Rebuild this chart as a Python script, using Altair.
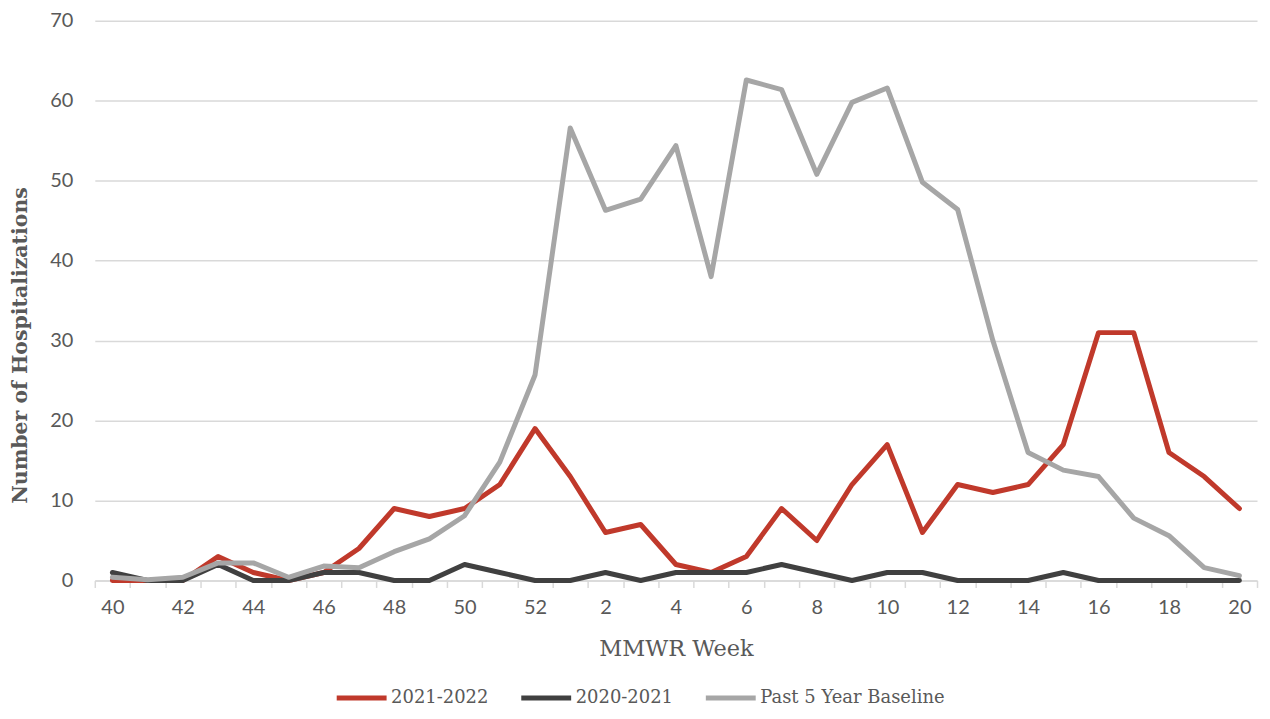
import altair as alt
import pandas as pd

weeks = ["40", "41", "42", "43", "44", "45", "46", "47", "48", "49", "50", "51", "52",
         "1", "2", "3", "4", "5", "6", "7", "8", "9", "10", "11", "12", "13", "14",
         "15", "16", "17", "18", "19", "20"]

season_2021_2022 = [0, 0, 0, 3, 1, 0, 1, 4, 9, 8, 9, 12, 19,
                    13, 6, 7, 2, 1, 3, 9, 5, 12, 17, 6, 12, 11, 12,
                    17, 31, 31, 16, 13, 9]

season_2020_2021 = [1, 0, 0, 2, 0, 0, 1, 1, 0, 0, 2, 1, 0,
                    0, 1, 0, 1, 1, 1, 2, 1, 0, 1, 1, 0, 0, 0,
                    1, 0, 0, 0, 0, 0]

baseline_5yr = [0.4, 0.1, 0.4, 2.2, 2.2, 0.4, 1.8, 1.6, 3.6, 5.2, 8.1, 14.8, 25.7,
                56.6, 46.3, 47.7, 54.4, 38.0, 62.6, 61.4, 50.8, 59.8, 61.6, 49.8, 46.4, 30.0, 16.0,
                13.8, 13.0, 7.8, 5.6, 1.6, 0.6]

series_names = ["2021-2022", "2020-2021", "Past 5 Year Baseline"]
series_colors = ["#C0392B", "#404040", "#A6A6A6"]

rows = []
for name, vals in zip(series_names, [season_2021_2022, season_2020_2021, baseline_5yr]):
    for i, (w, v) in enumerate(zip(weeks, vals)):
        rows.append({"week": w, "value": v, "series": name, "idx": i})
df = pd.DataFrame(rows)

LABEL = "#595959"
GRID = "#D9D9D9"
SERIF = "DejaVu Serif"
SANS = "Lato"

x_enc = alt.X(
    "week:N",
    sort=weeks,
    scale=alt.Scale(type="band", paddingInner=0, paddingOuter=0),
    axis=alt.Axis(
        title="MMWR Week",
        labelExpr="toNumber(datum.value) % 2 == 0 ? datum.value : ''",
        labelAngle=0,
        labelFont=SANS,
        labelFontSize=20,
        labelColor=LABEL,
        labelPadding=10,
        tickBand="extent",
        tickColor=GRID,
        tickSize=7,
        tickWidth=1.5,
        domainColor=GRID,
        domainWidth=1.5,
        grid=False,
        titleFont=SERIF,
        titleFontSize=22.5,
        titleFontWeight="normal",
        titleColor=LABEL,
        titleY=68,
        titleBaseline="middle",
    ),
)

y_enc = alt.Y(
    "value:Q",
    scale=alt.Scale(domain=[0, 70], nice=False),
    axis=alt.Axis(
        title="Number of Hospitalizations",
        values=[0, 10, 20, 30, 40, 50, 60, 70],
        labelFont=SANS,
        labelFontSize=20,
        labelColor=LABEL,
        labelPadding=22,
        ticks=False,
        domain=False,
        grid=True,
        gridColor=GRID,
        gridWidth=1.5,
        titleFont=SERIF,
        titleFontSize=20.5,
        titleFontWeight="bold",
        titleColor=LABEL,
        titleAngle=-90,
        titleX=-74,
        titleY=325,
        titleAlign="center",
        titleBaseline="middle",
    ),
)

color_enc = alt.Color(
    "series:N",
    scale=alt.Scale(domain=series_names, range=series_colors),
    sort=series_names,
    legend=alt.Legend(
        title=None,
        orient="none",
        direction="horizontal",
        legendX=240,
        legendY=651,
        symbolType="stroke",
        symbolSize=2500,
        symbolStrokeWidth=5,
        labelFont=SERIF,
        labelFontSize=18,
        labelColor=LABEL,
        labelOffset=2,
        labelLimit=400,
        columnPadding=22,
    ),
)

layers = []
for name in series_names:
    layers.append(
        alt.Chart(df)
        .transform_filter(alt.datum.series == name)
        .mark_line(strokeWidth=5, strokeJoin="round", strokeCap="round")
        .encode(x=x_enc, y=y_enc, color=color_enc, order="idx:Q")
    )

chart = (
    alt.layer(*layers)
    .properties(
        width=1165,
        height=561,
        autosize=alt.AutoSizeParams(type="none"),
        padding={"left": 87, "top": 12, "right": 5, "bottom": 130},
        background="white",
    )
    .configure_view(stroke=None)
)

chart.save("out.html", embed_options={"renderer": "svg", "actions": False})
